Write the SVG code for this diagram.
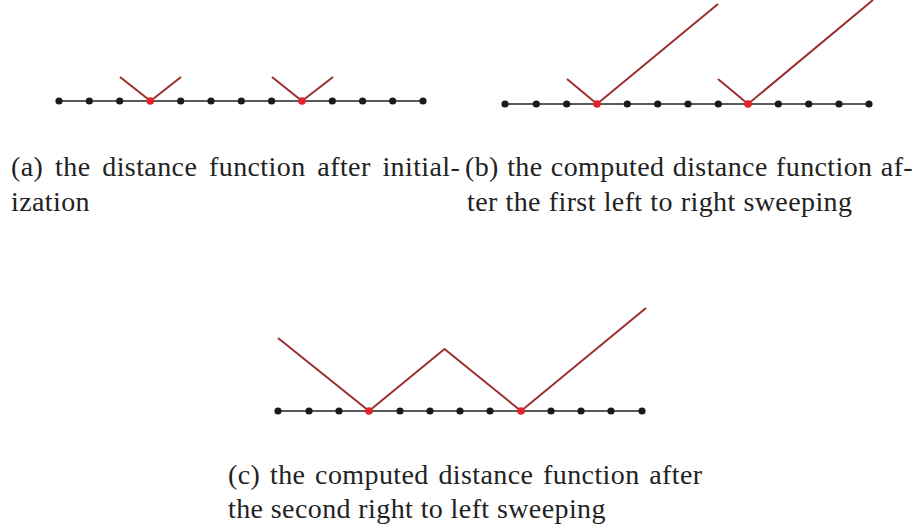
<svg xmlns="http://www.w3.org/2000/svg" width="924" height="529" viewBox="0 0 924 529">
<defs>
<style>
.axis{stroke:#222;stroke-width:1.5;fill:none}
.dot{fill:#1a1a1a}
.src{fill:#e5222a}
.fn{stroke:#9a2f2f;stroke-width:2;fill:none;stroke-linejoin:miter}
</style>
<circle id="d" r="3.6" class="dot"/>
<circle id="s" r="3.8" class="src"/>
</defs>
<rect width="924" height="529" fill="#fff"/>

<g id="connectors">
<polyline class="fn" points="120,77 150.5,101 181,77"/>
<polyline class="fn" points="272,77 302,101 333,77"/>
<polyline class="fn" points="567,79 597,104 718,4"/>
<polyline class="fn" points="718,79 748,104 873,0"/>
<polyline class="fn" points="278,338 369,411 444.5,349 521,411 646,308"/>
</g>

<g id="panel-a">
<line class="axis" x1="59" y1="101" x2="423" y2="101"/>
<use href="#d" x="59" y="101"/><use href="#d" x="89.3" y="101"/><use href="#d" x="119.7" y="101"/>
<use href="#d" x="180.7" y="101"/><use href="#d" x="211" y="101"/><use href="#d" x="241.3" y="101"/>
<use href="#d" x="271.6" y="101"/><use href="#d" x="332.3" y="101"/><use href="#d" x="362.6" y="101"/>
<use href="#d" x="392.7" y="101"/><use href="#d" x="423" y="101"/>
<use href="#s" x="150.3" y="101"/><use href="#s" x="302" y="101"/>
</g>

<g id="panel-b">
<line class="axis" x1="505" y1="104" x2="869" y2="104"/>
<use href="#d" x="505" y="104"/><use href="#d" x="536.3" y="104"/><use href="#d" x="566.7" y="104"/>
<use href="#d" x="627.3" y="104"/><use href="#d" x="657.7" y="104"/><use href="#d" x="688" y="104"/>
<use href="#d" x="718.3" y="104"/><use href="#d" x="778.3" y="104"/><use href="#d" x="808.7" y="104"/>
<use href="#d" x="839" y="104"/><use href="#d" x="869" y="104"/>
<use href="#s" x="597" y="104"/><use href="#s" x="748" y="104"/>
</g>

<g id="panel-c">
<line class="axis" x1="278" y1="411" x2="642" y2="411"/>
<use href="#d" x="278" y="411"/><use href="#d" x="309" y="411"/><use href="#d" x="339" y="411"/>
<use href="#d" x="400" y="411"/><use href="#d" x="430" y="411"/><use href="#d" x="460" y="411"/>
<use href="#d" x="490" y="411"/><use href="#d" x="551" y="411"/><use href="#d" x="581" y="411"/>
<use href="#d" x="611" y="411"/><use href="#d" x="642" y="411"/>
<use href="#s" x="369" y="411"/><use href="#s" x="521" y="411"/>
</g>

<g id="captions" font-family="Liberation Serif" font-size="28" fill="#222" letter-spacing="0.4">
<g id="caption-a">
<text x="11" y="176" word-spacing="4.4">(a) the distance function after initial-</text>
<text x="11" y="211">ization</text>
</g>
<g id="caption-b">
<text x="465" y="176" word-spacing="0.9">(b) the computed distance function af-</text>
<text x="467" y="211" word-spacing="0.4">ter the first left to right sweeping</text>
</g>
<g id="caption-c">
<text x="228" y="484" word-spacing="2.3">(c) the computed distance function after</text>
<text x="228" y="518">the second right to left sweeping</text>
</g>
</g>
</svg>
